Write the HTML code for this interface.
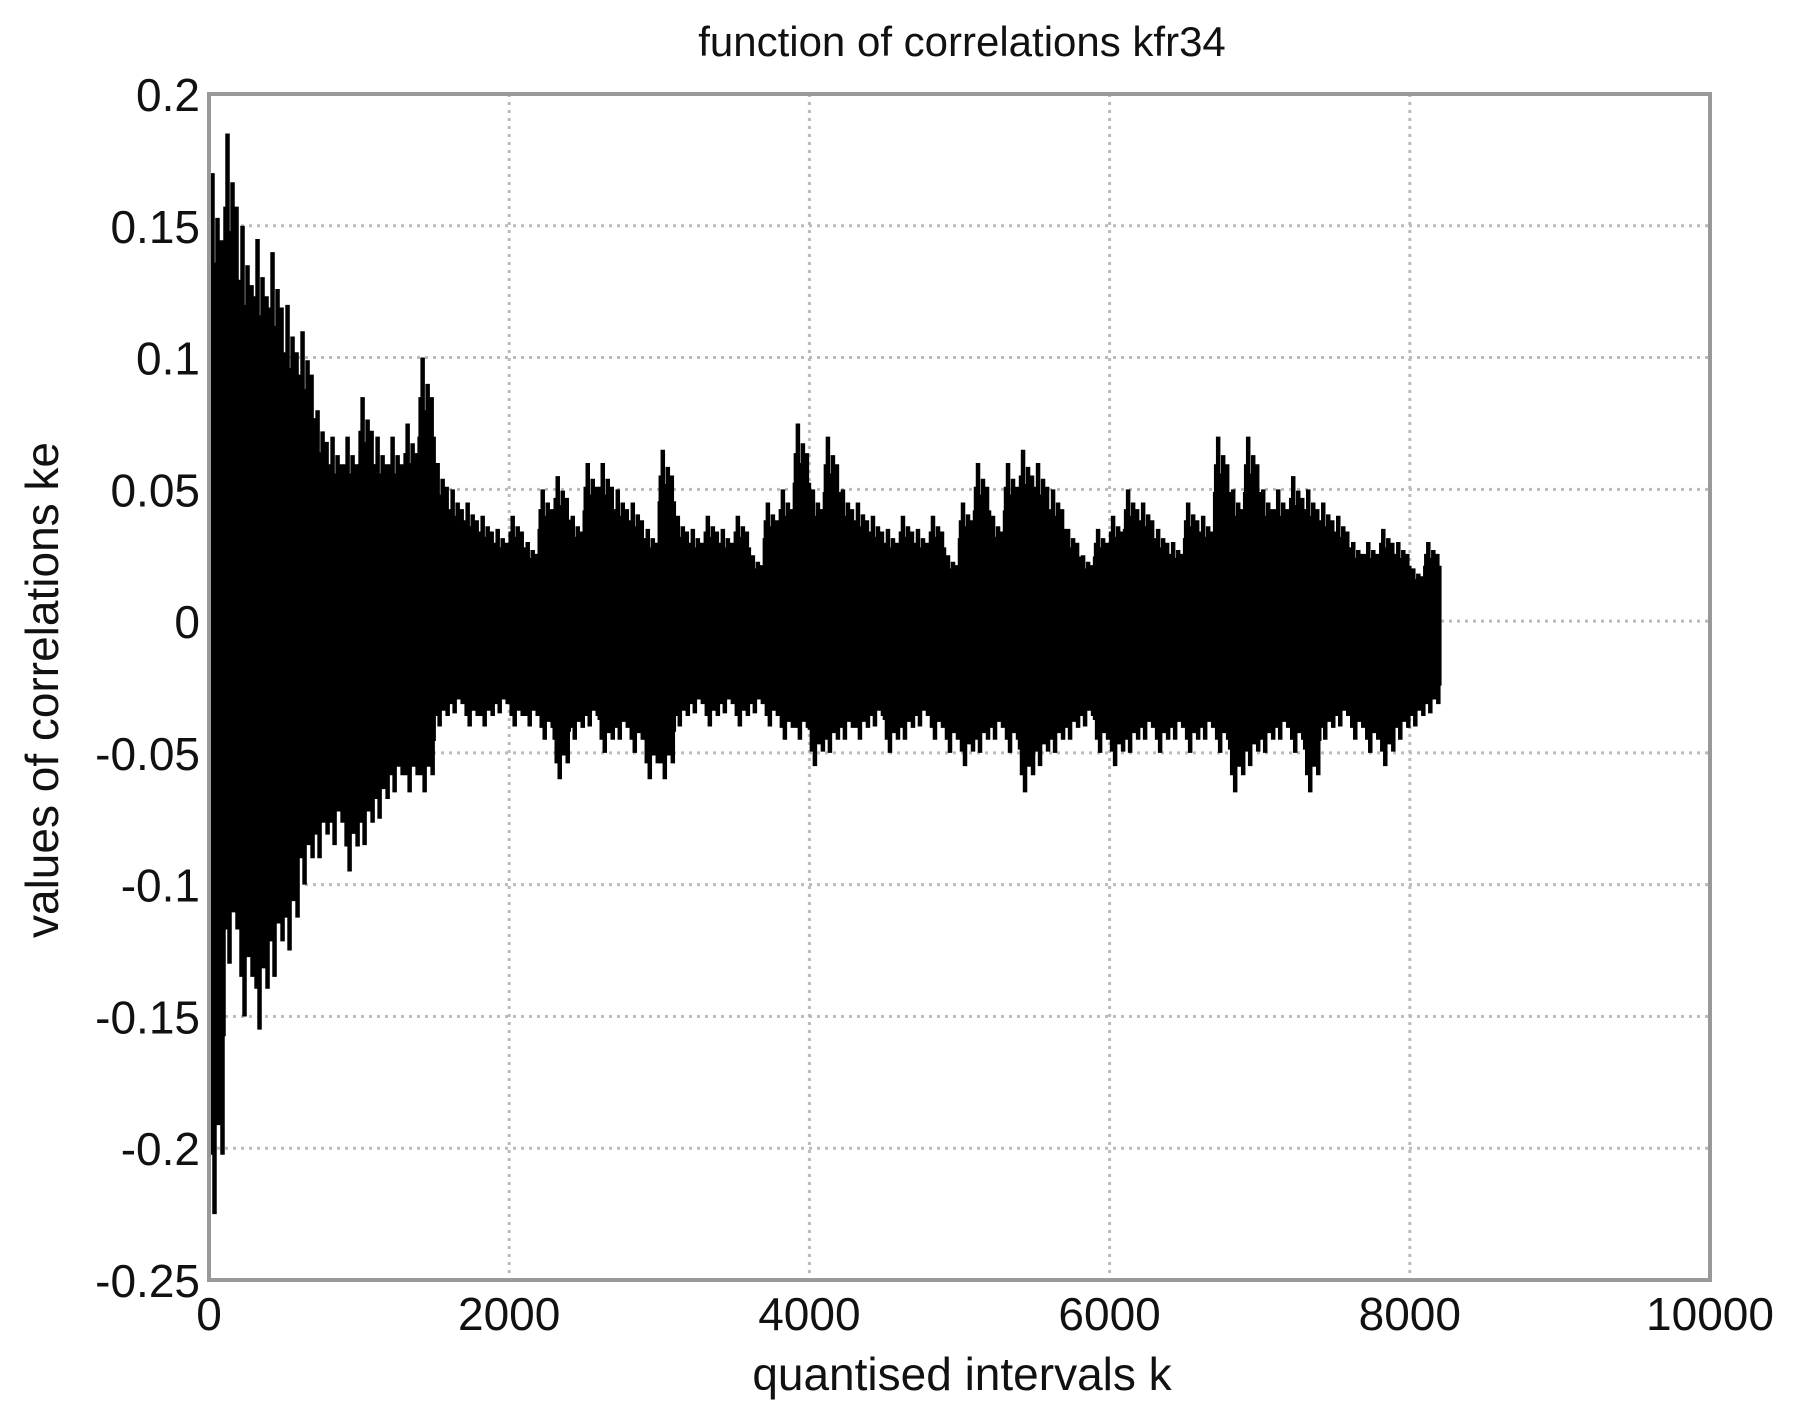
<!DOCTYPE html>
<html><head><meta charset="utf-8"><style>
body{margin:0;background:#fff;}
svg text{font-family:"Liberation Sans",Arial,sans-serif;fill:#111;}
</style></head><body>
<svg id="chart" width="1805" height="1408" viewBox="0 0 1805 1408" xmlns="http://www.w3.org/2000/svg">
<rect width="1805" height="1408" fill="#fff"/>
<g id="grid"></g>
<g id="series"></g>
<g id="axes"></g>
<text x="962" y="56" font-size="42" text-anchor="middle">function of correlations kfr34</text>
<text x="962" y="1390" font-size="46" text-anchor="middle">quantised intervals k</text>
<text transform="translate(58,690) rotate(-90)" font-size="46" text-anchor="middle">values of correlations ke</text>
</svg>
<script>
const xTicks=[0,2000,4000,6000,8000,10000];
const xTickLabels=["0","2000","4000","6000","8000","10000"];
const yTicks=[0.2,0.15,0.1,0.05,0,-0.05,-0.1,-0.15,-0.2,-0.25];
const yTickLabels=["0.2","0.15","0.1","0.05","0","-0.05","-0.1","-0.15","-0.2","-0.25"];
const binStart=0, binWidth=100;
const upperPeaks=[0.17,0.185,0.15,0.145,0.14,0.12,0.11,0.08,0.07,0.07,0.085,0.07,0.07,0.075,0.1,0.06,0.05,0.045,0.04,0.035,0.04,0.03,0.05,0.055,0.04,0.06,0.06,0.05,0.045,0.035,0.065,0.04,0.035,0.04,0.035,0.04,0.025,0.045,0.05,0.075,0.05,0.07,0.05,0.045,0.04,0.035,0.04,0.035,0.04,0.025,0.045,0.06,0.04,0.06,0.065,0.06,0.05,0.035,0.025,0.035,0.04,0.05,0.045,0.035,0.03,0.045,0.04,0.07,0.05,0.07,0.05,0.05,0.055,0.05,0.045,0.04,0.03,0.03,0.035,0.03,0.02,0.03];
const lowerPeaks=[-0.225,-0.13,-0.15,-0.155,-0.135,-0.125,-0.1,-0.09,-0.085,-0.095,-0.085,-0.075,-0.065,-0.065,-0.065,-0.04,-0.035,-0.04,-0.04,-0.035,-0.04,-0.04,-0.045,-0.06,-0.045,-0.04,-0.05,-0.045,-0.05,-0.06,-0.06,-0.04,-0.035,-0.04,-0.035,-0.04,-0.035,-0.04,-0.045,-0.045,-0.055,-0.05,-0.045,-0.045,-0.04,-0.05,-0.045,-0.04,-0.045,-0.05,-0.055,-0.05,-0.045,-0.05,-0.065,-0.055,-0.05,-0.045,-0.04,-0.05,-0.055,-0.05,-0.045,-0.05,-0.045,-0.05,-0.045,-0.05,-0.065,-0.055,-0.05,-0.045,-0.05,-0.065,-0.045,-0.04,-0.045,-0.05,-0.055,-0.045,-0.04,-0.035];
const X0=209,X1=1710,Y0=94,Y1=1280;
const xs=v=>X0+(v-0)/(10000-0)*(X1-X0);
const ys=v=>Y0+(0.2-v)/(0.45)*(Y1-Y0);
const NS="http://www.w3.org/2000/svg";
function mk(tag,attrs,parent){const e=document.createElementNS(NS,tag);for(const k in attrs)e.setAttribute(k,attrs[k]);parent.appendChild(e);return e;}
const grid=document.getElementById('grid'),axes=document.getElementById('axes'),ser=document.getElementById('series');
xTicks.forEach((t,i)=>{
 if(i>0&&i<xTicks.length-1){const g=mk('line',{x1:xs(t),x2:xs(t),y1:Y0,y2:Y1,stroke:'#bbb','stroke-width':3,'stroke-dasharray':'3 5'},grid);
 
 }
 const tx=mk('text',{x:xs(t),y:1330,'font-size':46,'text-anchor':'middle'},axes);tx.textContent=xTickLabels[i];
 
 
});
yTicks.forEach((t,i)=>{
 if(i>0&&i<yTicks.length-1){const g=mk('line',{x1:X0,x2:X1,y1:ys(t),y2:ys(t),stroke:'#bbb','stroke-width':3,'stroke-dasharray':'3 5'},grid);
 
 }
 const tx=mk('text',{x:200,y:ys(t)+17,'font-size':46,'text-anchor':'end'},axes);tx.textContent=yTickLabels[i];
 
 
});
const frame=mk('rect',{x:X0,y:Y0,width:X1-X0,height:Y1-Y0,fill:'none',stroke:'#999','stroke-width':4},axes);


// stroke pattern within a bin (visual texture only)
const fu=[0.7,0.85,0.6,1,0.75,0.6,0.8,0.65,0.9,0.6,0.75,0.7,0.85,0.6,0.7];
const fl=[0.75,0.6,0.9,0.65,0.8,1,0.6,0.75,0.7,0.85,0.6,0.8,0.65,0.9,0.7];
upperPeaks.forEach((u,i)=>{
 const lo=lowerPeaks[i];const k0=binStart+i*binWidth;
 const core=mk('rect',{x:xs(k0),y:ys(u*0.6),width:xs(k0+binWidth)-xs(k0)+0.5,height:ys(lo*0.6)-ys(u*0.6),fill:'#000'},ser);
 
 
 for(let j=0;j<fu.length;j++){
  const k=k0+(j+0.5)*binWidth/fu.length;
  const l=mk('line',{x1:xs(k),x2:xs(k),y1:ys(u*fu[j]),y2:ys(lo*fl[j]),stroke:'#000','stroke-width':4.5},ser);
  
  
 }
});
</script>
</body></html>
